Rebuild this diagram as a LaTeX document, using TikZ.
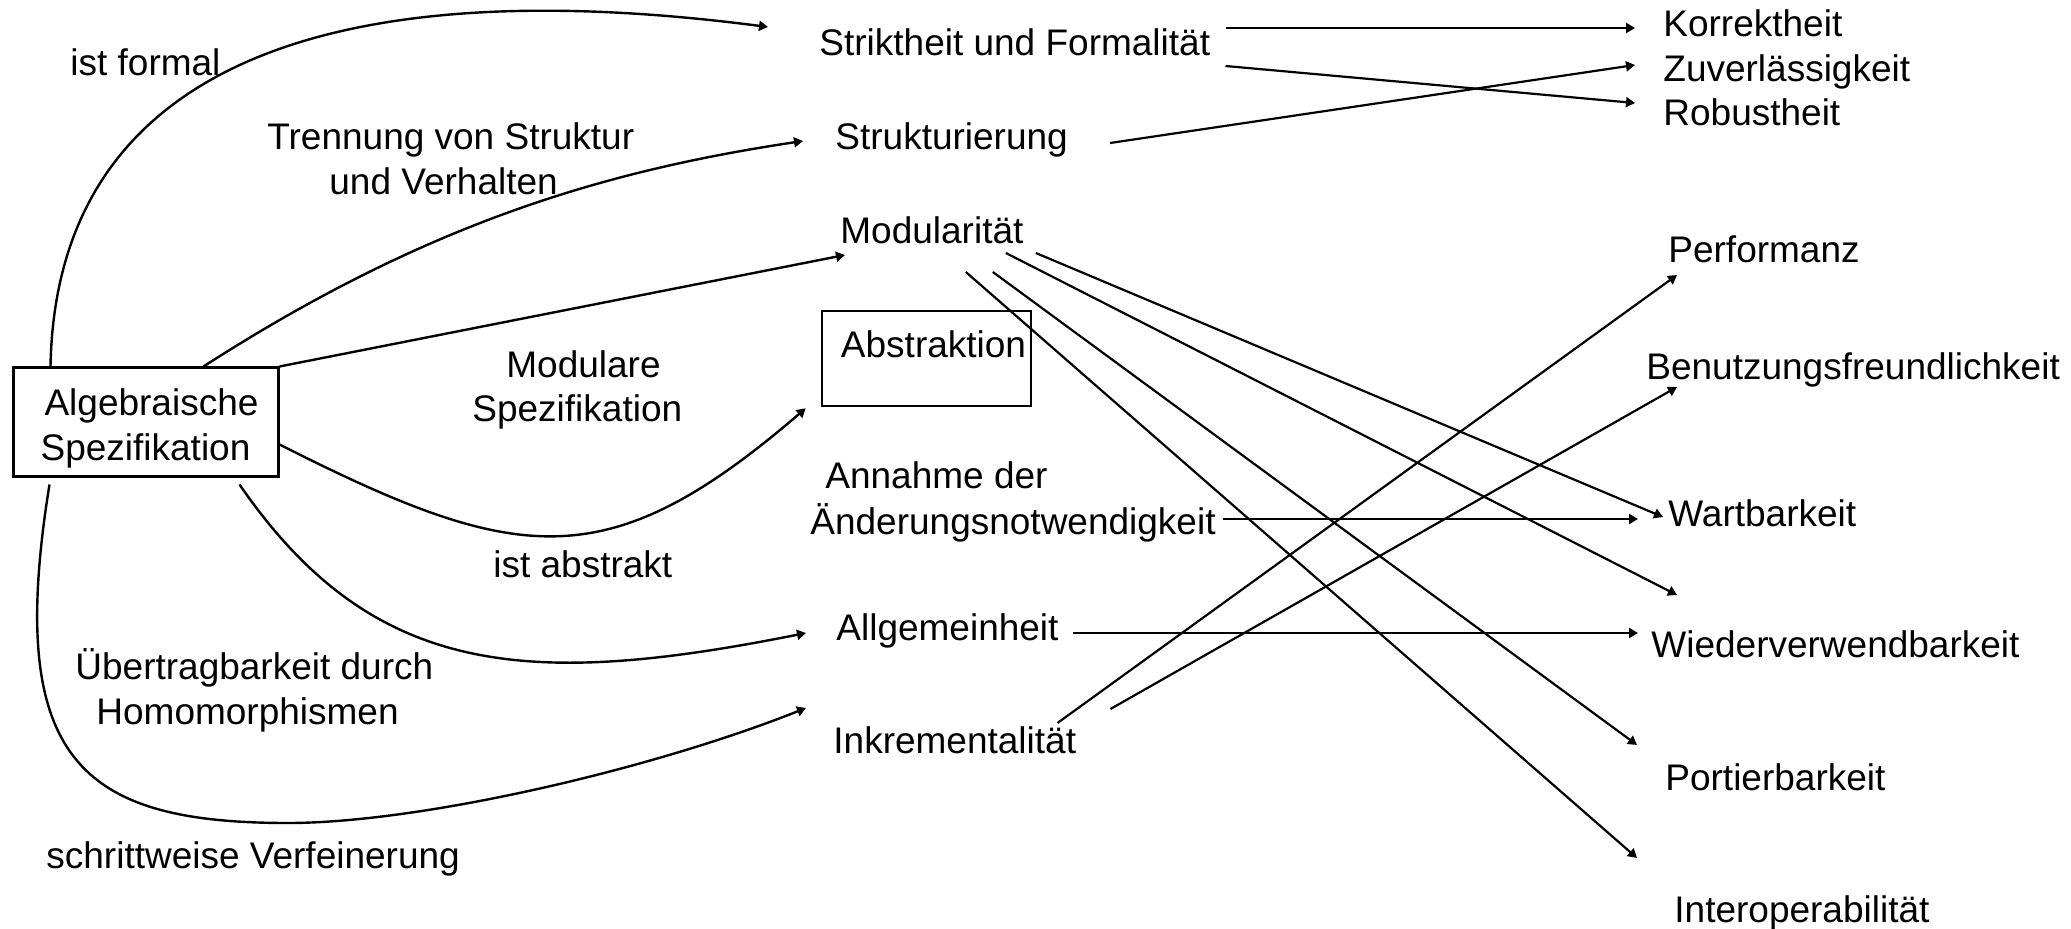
\documentclass[tikz,border=0pt]{standalone}
\usepackage{fontspec}
\setmainfont{Liberation Sans}
\usetikzlibrary{arrows.meta,calc}
\begin{document}
\begin{tikzpicture}[x=0.5pt,y=-0.5pt,
  every node/.style={font=\fontsize{18.5pt}{22.5pt}\selectfont, inner sep=0pt},
  lbl/.style={anchor=base west},
  box/.style={draw, line width=1.5pt, align=center},
  conn/.style={line width=1.1pt, -{Triangle[length=4.5pt,width=5pt]}},
  curv/.style={conn, line width=1.2pt}]
\useasboundingbox (0,0) rectangle (2071,929);
% boxes
\node[box, minimum width=132.5pt, minimum height=54.5pt] (alg) at (145.5,422.5) {\rule{0pt}{19pt}\hspace*{6pt}Algebraische\\Spezifikation};
\node[box, line width=1.3pt, minimum width=104.5pt, minimum height=47.5pt, text depth=14pt] (abst) at (926.5,358.5) {\hspace*{7pt}Abstraktion};
% left labels
\node[lbl] (formal) at (70,76) {ist formal};
\node[lbl] (trennA) at (267,150) {Trennung von Struktur};
\node[lbl] (trennB) at (329,195) {und Verhalten};
\node[lbl] (modA) at (506,378) {Modulare};
\node[lbl] (modB) at (472,422) {Spezifikation};
\node[lbl] (abstrakt) at (493,578) {ist abstrakt};
\node[lbl] (uebA) at (75,680) {Übertragbarkeit durch};
\node[lbl] (uebB) at (96,725) {Homomorphismen};
\node[lbl] (schritt) at (46,868) {schrittweise Verfeinerung};
% middle column
\node[lbl] (strik) at (819,56) {Striktheit und Formalität};
\node[lbl] (struk) at (835,150) {Strukturierung};
\node[lbl] (modu) at (840,244) {Modularität};
\node[lbl] (annA) at (825,489) {Annahme der};
\node[lbl] (aend) at (810,535) {Änderungsnotwendigkeit};
\node[lbl] (allg) at (836,641) {Allgemeinheit};
\node[lbl] (inkr) at (833,753) {Inkrementalität};
% right column
\node[lbl] (korr) at (1663,37) {Korrektheit};
\node[lbl] (zuver) at (1663,82) {Zuverlässigkeit};
\node[lbl] (robust) at (1663,126) {Robustheit};
\node[lbl] (perf) at (1668,263) {Performanz};
\node[lbl] (benu) at (1646,380) {Benutzungsfreundlichkeit};
\node[lbl] (wart) at (1668,527) {Wartbarkeit};
\node[lbl] (wied) at (1651,658) {Wiederverwendbarkeit};
\node[lbl] (port) at (1665,790) {Portierbarkeit};
\node[lbl] (inter) at (1674,922) {Interoperabilität};
% curved connectors from the box
\draw[curv] ($(alg.north west)+(39,0)$) .. controls (56,65) and (330,-30) .. ($(strik.base west)+(-51,-29)$);
\draw[curv] ($(alg.north west)+(192,0)$) .. controls (425,224) and (603,171) .. ($(struk.base west)+(-32,-9)$);
\draw[curv] (alg.north east) -- ($(modu.base west)+(5,11)$);
\draw[curv] ($(alg.east)+(0,22)$) .. controls (518,565) and (607,579) .. ($(abst.south west)+(-15,1)$);
\draw[curv] ($(alg.south west)+(228,6)$) .. controls (372,677) and (526,689) .. ($(allg.base west)+(-30,-8)$);
\draw[curv] ($(alg.south west)+(38,6)$) .. controls (5,760) and (80,823) .. (288,823) .. controls (420,823) and (650,770) .. ($(inkr.base west)+(-27,-45)$);
% straight connectors
\draw[conn] ($(strik.base east)+(15,-28)$) -- ($(korr.base west)+(-28,-9)$);
\draw[conn] ($(strik.base east)+(15,10)$) -- ($(robust.base west)+(-28,-23)$);
\draw[conn] ($(struk.base east)+(42,-7)$) -- ($(zuver.base west)+(-28,-17)$);
\draw[conn] ($(modu.base east)+(12,9)$) -- ($(wart.base west)+(-5,-10)$);
\draw[conn] ($(modu.base east)+(-18,9)$) -- ($(wied.base west)+(26,-63)$);
\draw[conn] ($(modu.base east)+(-31,28)$) -- ($(port.base west)+(-28,-45)$);
\draw[conn] ($(modu.base east)+(-58,28)$) -- ($(inter.base west)+(-37,-64)$);
\draw[conn] ($(aend.base east)+(7,-16)$) -- ($(wart.base west)+(-30,-8)$);
\draw[conn] ($(allg.base east)+(14,-8)$) -- ($(wied.base west)+(-13,-25)$);
\draw[conn] ($(inkr.base east)+(-19,-30)$) -- ($(perf.base west)+(9,12)$);
\draw[conn] ($(inkr.base east)+(34,-44)$) -- ($(benu.base west)+(31,7)$);
\end{tikzpicture}
\end{document}
